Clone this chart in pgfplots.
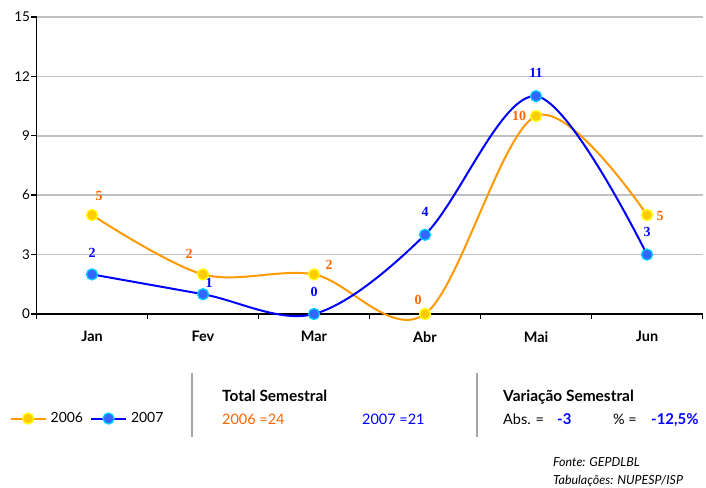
\documentclass[border=0pt]{standalone}
\usepackage{pgfplots}
\pgfplotsset{compat=1.18}
\usepackage{fontspec}
\setmainfont{Lato}
\newfontfamily\serifb{Liberation Serif}
\definecolor{or}{HTML}{FF9900}
\definecolor{orlab}{HTML}{FF6600}
\definecolor{bl}{HTML}{0000FF}
\definecolor{yelfill}{HTML}{FFCC00}
\definecolor{yelline}{HTML}{FFFF00}
\definecolor{blfill}{HTML}{3366FF}
\definecolor{cyline}{HTML}{00CCFF}
\definecolor{gridg}{HTML}{C0C0C0}
\begin{document}
\begin{tikzpicture}[x=1bp,y=1bp]
\useasboundingbox (0,0) rectangle (706,488);
\begin{axis}[
  at={(36.5bp,174bp)}, anchor=south west,
  scale only axis, width=666bp, height=297bp,
  xmin=-0.5, xmax=5.5, ymin=0, ymax=15,
  clip=false,
  axis x line=bottom, axis y line=left,
  axis line style={black, line width=1.6bp, -},
  ytick={0,3,...,15},
  ymajorgrids, grid style={gridg, line width=1.5bp},
  xtick={0,...,5},
  xticklabels={Jan,Fev,Mar,Abr,Mai,Jun},
  minor xtick={-0.5,0.5,...,5.5},
  major x tick style={draw=none},
  tick align=outside,
  major tick length=5bp, minor tick length=5bp,
  tick style={black, line width=1.4bp},
  /pgf/number format/assume math mode=true,
  yticklabel style={font=\fontsize{13.5}{15}\selectfont, xshift=2bp},
  xticklabel style={font=\bfseries\fontsize{14.5}{16}\selectfont, yshift=-9bp},
  legend style={at={(-0.045,-0.352)}, anchor=west, draw=none, fill=none,
     font=\fontsize{14}{16}\selectfont, column sep=2bp,
     /tikz/every even column/.append style={column sep=5bp}},
  legend columns=2,
  legend image code/.code={\draw[mark repeat=2,mark phase=2,#1] plot coordinates {(0bp,0bp) (17.5bp,0bp) (35bp,0bp)};},
]
\addplot[or, line width=2bp, smooth, tension=0.55, mark=*, mark size=5.5bp,
  mark options={fill=yelfill, draw=yelline, line width=1.3bp}]
  coordinates {(0,5) (1,2) (2,2) (3,0) (4,10) (5,5)};
\addlegendentry{2006}
\addplot[bl, line width=2bp, smooth, tension=0.55, mark=*, mark size=5.5bp,
  mark options={fill=blfill, draw=cyline, line width=1.3bp}]
  coordinates {(0,2) (1,1) (2,0) (3,4) (4,11) (5,3)};
\addlegendentry{2007}
% data labels 2006
\begin{scope}[every node/.style={font=\serifb\bfseries\fontsize{14}{16}\selectfont, text=orlab, inner sep=0pt}]
\node at ([shift={(7bp,19bp)}]axis cs:0,5) {5};
\node at ([shift={(-14bp,21bp)}]axis cs:1,2) {2};
\node at ([shift={(15bp,10bp)}]axis cs:2,2) {2};
\node at ([shift={(-7bp,14bp)}]axis cs:3,0) {0};
\node at ([shift={(-17bp,0bp)}]axis cs:4,10) {10};
\node at ([shift={(13bp,-1bp)}]axis cs:5,5) {5};
\end{scope}
\begin{scope}[every node/.style={font=\serifb\bfseries\fontsize{14}{16}\selectfont, text=bl, inner sep=0pt}]
\node at ([shift={(0bp,22bp)}]axis cs:0,2) {2};
\node at ([shift={(6bp,11bp)}]axis cs:1,1) {1};
\node at ([shift={(0bp,22bp)}]axis cs:2,0) {0};
\node at ([shift={(0bp,23bp)}]axis cs:3,4) {4};
\node at ([shift={(0bp,23bp)}]axis cs:4,11) {11};
\node at ([shift={(0bp,23bp)}]axis cs:5,3) {3};
\end{scope}
\end{axis}
% separators
\draw[gray!70, line width=1.5bp] (192,115) -- (192,51);
\draw[gray!70, line width=1.5bp] (477,115) -- (477,51);
\begin{scope}[every node/.style={inner sep=0pt, anchor=base west, font=\fontsize{14.5}{16}\selectfont}]
\node[font=\bfseries\fontsize{15.5}{17}\selectfont] at (222,86) {Total Semestral};
\node[text=orlab] at (222,63) {2006 =24};
\node[text=bl] at (362,63) {2007 =21};
\node[font=\bfseries\fontsize{15.5}{17}\selectfont] at (503,86) {Variação Semestral};
\node at (503,63) {Abs. =};
\node[text=bl, font=\bfseries\fontsize{15}{17}\selectfont] at (557,63) {-3};
\node at (613,63) {\% =};
\node[text=bl, font=\bfseries\fontsize{15}{17}\selectfont] at (651,63) {-12,5\%};
\node[font=\itshape\fontsize{12.5}{14}\selectfont] at (553,21) {Fonte: GEPDLBL};
\node[font=\itshape\fontsize{12.5}{14}\selectfont] at (553,3) {Tabulações: NUPESP/ISP};
\end{scope}
\end{tikzpicture}
\end{document}
